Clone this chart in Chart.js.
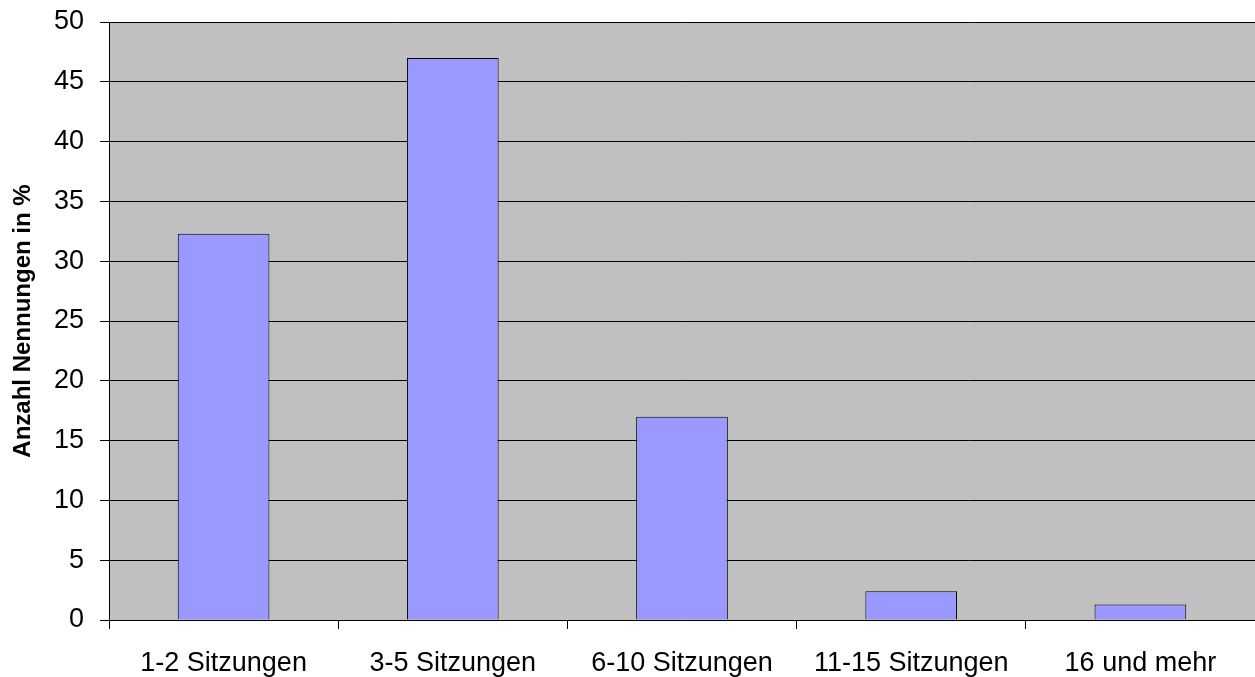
<!DOCTYPE html>
<html>
<head>
<meta charset="utf-8">
<script src="https://cdn.jsdelivr.net/npm/chart.js@4"></script>
<style>
  html, body { margin: 0; padding: 0; background: #fff; }
  #wrap { width: 1255px; height: 677px; }
</style>
</head>
<body>
<div id="wrap"><canvas id="sitzungenChart" width="1255" height="677"></canvas></div>
<script>
const categories = ['1-2 Sitzungen', '3-5 Sitzungen', '6-10 Sitzungen', '11-15 Sitzungen', '16 und mehr'];
const percentages = [32.3, 47.0, 17.0, 2.4, 1.3];
const yAxisTitle = 'Anzahl Nennungen in %';

// grey plot background like the old excel chart
const plotBackground = {
    id: 'plotBackground',
    beforeDraw(chart) {
        const { ctx, chartArea: a } = chart;
        ctx.save();
        ctx.fillStyle = '#c0c0c0';
        ctx.fillRect(a.left, a.top, a.right - a.left, a.bottom - a.top);
        ctx.restore();
    }
};

const ctx = document.getElementById('sitzungenChart').getContext('2d');

new Chart(ctx, {
    type: 'bar',
    data: {
        labels: categories,
        datasets: [{
            label: yAxisTitle,
            data: percentages,
            backgroundColor: '#9999ff',
            borderColor: '#000',
            borderWidth: 1,
            barPercentage: 0.4,
            categoryPercentage: 1.0
        }]
    },
    options: {
        responsive: false,
        animation: false,
        layout: { padding: { top: 22, right: 0, left: 0, bottom: 0 } },
        plugins: {
            legend: { display: false },
            tooltip: { enabled: false }
        },
        scales: {
            x: {
                grid: {
                    offset: true,
                    drawOnChartArea: false,
                    color: '#000',
                    tickLength: 9
                },
                border: { color: '#000', width: 1 },
                ticks: {
                    color: '#000',
                    padding: 18,
                    maxRotation: 0,
                    font: { family: 'Liberation Sans', size: 27 }
                },
                afterFit(scale) {
                    scale.height = 57;
                    scale.paddingLeft = 0;
                    scale.paddingRight = 0;
                }
            },
            y: {
                min: 0,
                max: 50,
                grid: { color: '#000', tickLength: 9 },
                border: { color: '#000', width: 1 },
                ticks: {
                    stepSize: 5,
                    color: '#000',
                    padding: 16,
                    font: { family: 'Liberation Sans', size: 27 }
                },
                title: {
                    display: true,
                    text: yAxisTitle,
                    color: '#000',
                    padding: { top: 9, bottom: 0 },
                    font: { family: 'Liberation Sans', size: 24, weight: 'bold' }
                },
                afterFit(scale) {
                    scale.width = 109;
                    scale.paddingTop = 0;
                    scale.paddingBottom = 0;
                }
            }
        }
    },
    plugins: [plotBackground]
});
</script>
</body>
</html>
